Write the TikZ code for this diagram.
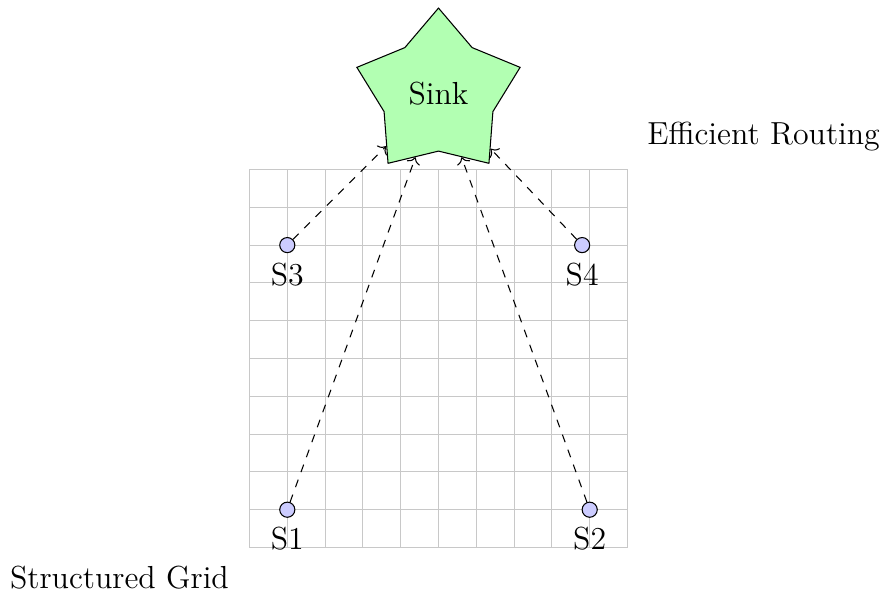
\documentclass[tikz,border=0pt]{standalone}
\usepackage{tikz}
\usetikzlibrary{shapes,arrows.meta,positioning,shapes.geometric}
\definecolor{mygrid}{RGB}{200,200,200}
\definecolor{mysensor}{RGB}{204,204,255}
\definecolor{mysink}{RGB}{178,255,178}

\begin{document}
\begin{tikzpicture}[font=\large]
  \useasboundingbox (-3.300,-0.642) rectangle (8.406,7.242);
  % Draw the grid
  \foreach \i in {0,0.5,...,5}{
    \draw[mygrid] (\i,0) -- (\i,5);
    \draw[mygrid] (0,\i) -- (5,\i);
  }
  % Sink
  \node[star, star points=5, draw, fill=mysink, minimum size=2.27cm]
    (sink) at (2.5,6) {Sink};
  % Sensors
  \foreach \n/\x/\y in {1/0.5/0.5, 2/4.5/0.5, 3/0.5/4, 4/4.4/4}{
    \node[circle, draw, fill=mysensor, minimum size=0.2cm, inner sep=0pt,
          label=below:S\n] (s\n) at (\x,\y) {};
  }
  % Routes to the sink
  \foreach \n in {1,...,4}{
    \draw[dashed, ->] (s\n) -- (sink);
  }
  % Labels
  \node (gridlabel) at (-1.72,-0.4) {Structured Grid};
  \node (routelabel) at (6.8,5.44) {Efficient Routing};
\end{tikzpicture}
\end{document}
